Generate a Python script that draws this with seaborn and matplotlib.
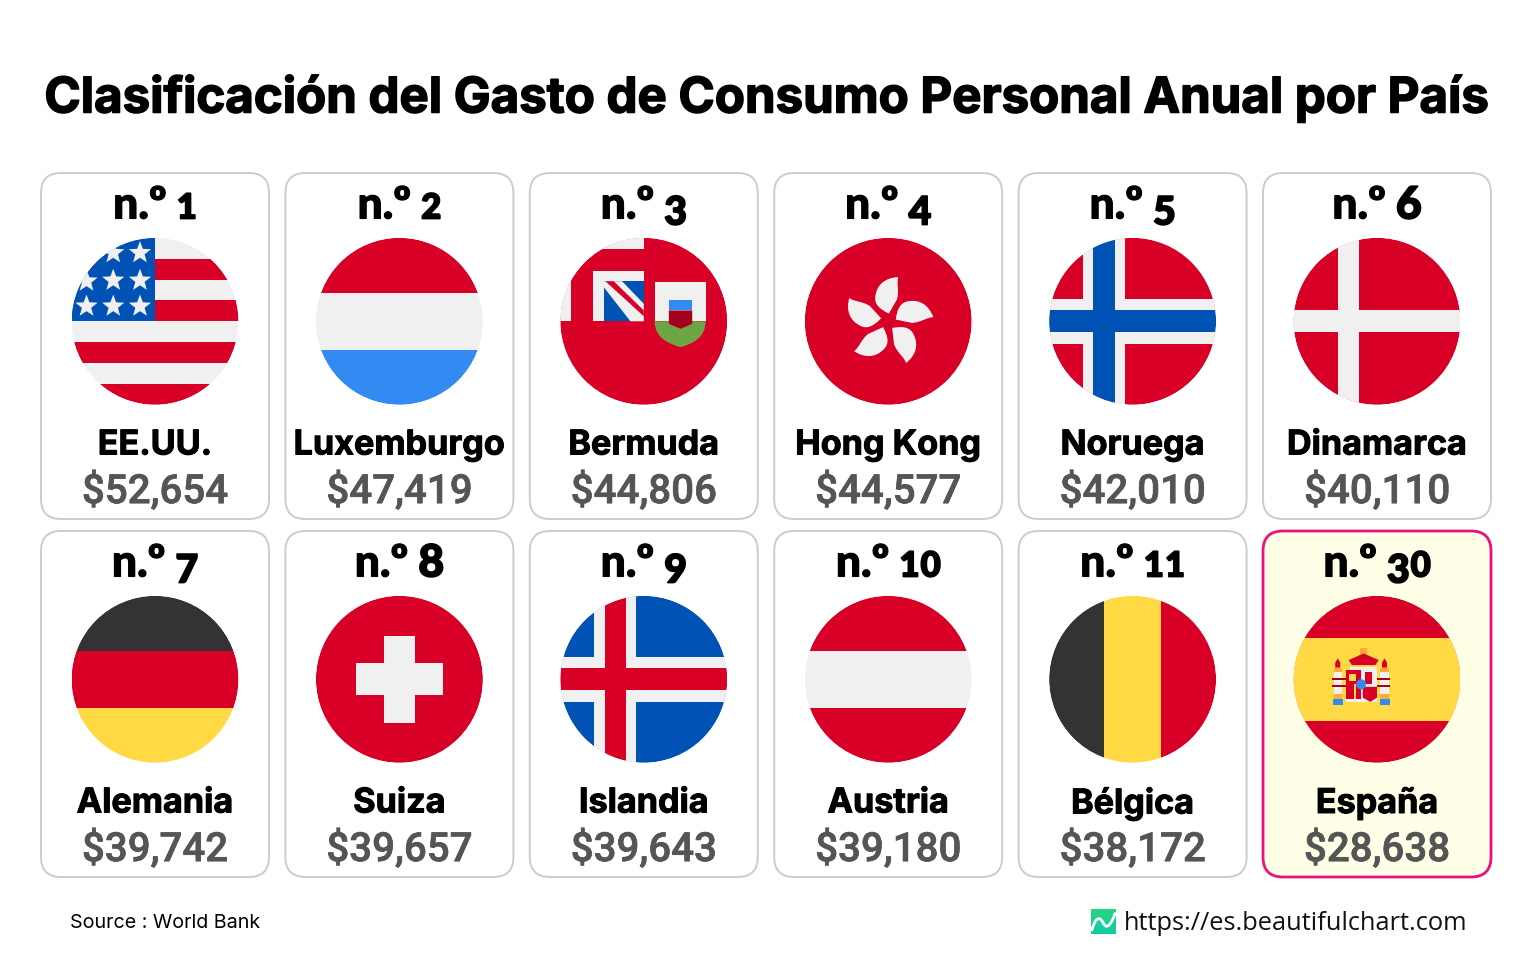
#!/usr/bin/env python3
# -*- coding: utf-8 -*-
import numpy as np
import pandas as pd
import matplotlib.pyplot as plt
import matplotlib.patheffects as pe
import seaborn as sns
from matplotlib.patches import Circle, FancyBboxPatch, PathPatch, Polygon
from matplotlib.path import Path
from matplotlib.transforms import Affine2D

sns.set_theme(style="white")
plt.rcParams['figure.dpi'] = 100

# %% data
paises = ['EE.UU.', 'Luxemburgo', 'Bermuda', 'Hong Kong', 'Noruega', 'Dinamarca',
          'Alemania', 'Suiza', 'Islandia', 'Austria', 'Bélgica', 'España']
puestos = [1, 2, 3, 4, 5, 6, 7, 8, 9, 10, 11, 30]
gasto = [52654, 47419, 44806, 44577, 42010, 40110,
         39742, 39657, 39643, 39180, 38172, 28638]

titulo = 'Clasificación del Gasto de Consumo Personal Anual por País'
fuente = 'Source : World Bank'
web = 'https://es.beautifulchart.com'

RED = '#D80027'
WHITE = '#F0F0F0'
BLUE = '#0052B4'
SKY = '#338AF3'
YELLOW = '#FFDA44'
BLACK = '#333333'
GREEN = '#6DA544'
DARK = '#A2001D'
ORANGE = '#FFA93A'

# card geometry, in pixels
CARD_W, CARD_H = 228, 346
CX, CY, R = 114, 148.3, 83.5


def grueso(w, color='black'):
    # the installed bold cuts are lighter than the original one
    return [pe.withStroke(linewidth=w, foreground=color)]


# %% flag helpers (unit circle coordinates, y goes down)
class Flag:
    def __init__(self, ax):
        self.ax = ax
        self.clip = Circle((CX, CY), R, transform=ax.transData)
        self.to_px = Affine2D().scale(R).translate(CX, CY)

    def add(self, patch):
        patch.set_clip_path(self.clip)
        self.ax.add_patch(patch)

    def rect(self, x0, y0, x1, y1, color):
        self.poly([(x0, y0), (x1, y0), (x1, y1), (x0, y1)], color)

    def poly(self, pts, color):
        self.add(Polygon(self.to_px.transform(pts), closed=True, fc=color, ec='none', lw=0))

    def disc(self, x, y, r, color):
        self.add(Circle((CX + x * R, CY + y * R), r * R, fc=color, ec='none', lw=0))

    def path(self, verts, codes, color):
        self.add(PathPatch(Path(self.to_px.transform(verts), codes), fc=color, ec='none', lw=0))


def bands_h(f, colors):
    f.rect(-1, -1, 1, -.34, colors[0])
    f.rect(-1, -.34, 1, .34, colors[1])
    f.rect(-1, .34, 1, 1, colors[2])


def flag_usa(f):
    f.rect(-1, -1, 1, 1, WHITE)
    for y in [-.75, -.25, .25, .75]:
        f.rect(-1, y, 1, y + .25, RED)
    f.rect(-1, -1, 0, 0, BLUE)
    star = Path.unit_regular_star(5, 0.42)
    for x, y in [(-.18, -.82), (-.5, -.82), (-.82, -.48), (-.5, -.49), (-.18, -.49),
                 (-.82, -.18), (-.5, -.18), (-.18, -.18)]:
        f.path(star.vertices * [.14, -.14] + [x, y], star.codes, WHITE)


def flag_lux(f):
    bands_h(f, [RED, WHITE, SKY])


def flag_bermuda(f):
    f.rect(-1, -1, 1, 1, RED)
    f.rect(-.5, -1, 0, -.87, WHITE)
    f.rect(-1, -.51, -.87, 0, WHITE)
    f.rect(-.61, -.6, 0, 0, WHITE)
    f.rect(-.48, -.48, 0, 0, BLUE)
    f.poly([(-.48, -.48), (-.26, -.48), (0, -.21), (0, 0), (-.16, 0), (-.48, -.41)], WHITE)
    f.poly([(-.46, -.48), (-.36, -.48), (0, -.13), (0, -.06)], RED)
    f.rect(.13, -.47, .74, 0, WHITE)
    codes = [Path.MOVETO] + [Path.CURVE4] * 6 + [Path.CLOSEPOLY]
    f.path([(.13, 0), (.13, .2), (.3, .27), (.44, .31), (.58, .27), (.74, .2), (.74, 0), (.13, 0)],
           codes, GREEN)
    f.rect(.30, -.26, .58, -.13, SKY)
    f.poly([(.30, -.13), (.58, -.13), (.58, .03), (.44, .09), (.30, .03)], DARK)


def flag_hk(f):
    f.rect(-1, -1, 1, 1, RED)
    codes = [Path.MOVETO] + [Path.CURVE4] * 9 + [Path.CLOSEPOLY]
    petal = np.array([(.008, -.088), (-.1, -.14), (-.17, -.2), (-.144, -.3),
                      (-.125, -.42), (-.03, -.5), (.116, -.504),
                      (.09, -.44), (.13, -.35), (.1, -.25),
                      (.008, -.088)]) * 1.05
    for k in range(5):
        a = np.radians(72 * k)
        rot = np.array([[np.cos(a), -np.sin(a)], [np.sin(a), np.cos(a)]])
        f.path(petal @ rot.T, codes, WHITE)


def nordic(f, back, outer, inner):
    f.rect(-1, -1, 1, 1, back)
    f.rect(-.6, -1, -.09, 1, outer)
    f.rect(-1, -.27, 1, .27, outer)
    f.rect(-.47, -1, -.21, 1, inner)
    f.rect(-1, -.13, 1, .13, inner)


def flag_nor(f):
    nordic(f, RED, WHITE, BLUE)


def flag_den(f):
    f.rect(-1, -1, 1, 1, RED)
    f.rect(-.47, -1, -.21, 1, WHITE)
    f.rect(-1, -.13, 1, .13, WHITE)


def flag_ger(f):
    bands_h(f, [BLACK, RED, YELLOW])


def flag_sui(f):
    f.rect(-1, -1, 1, 1, RED)
    f.rect(-.52, -.19, .52, .19, WHITE)
    f.rect(-.19, -.52, .19, .52, WHITE)


def flag_isl(f):
    nordic(f, BLUE, WHITE, RED)


def flag_aut(f):
    bands_h(f, [RED, WHITE, RED])


def flag_bel(f):
    f.rect(-1, -1, -.34, 1, BLACK)
    f.rect(-.34, -1, .34, 1, YELLOW)
    f.rect(.34, -1, 1, 1, RED)


def flag_esp(f):
    f.rect(-1, -1, 1, 1, RED)
    f.rect(-1, -.5, 1, .5, YELLOW)
    # coat of arms
    for x in [-.47, .09]:
        f.poly([(x - .03, -.20), (x, -.25), (x + .03, -.20), (x + .03, -.14), (x - .03, -.14)], RED)
        f.rect(x - .05, -.14, x + .05, -.09, ORANGE)
        f.rect(x - .05, -.09, x + .05, .18, WHITE)
        f.rect(x - .07, -.01, x + .07, .01, DARK)
        f.rect(x - .07, .07, x + .07, .09, DARK)
        f.rect(x - .05, .18, x + .05, .24, ORANGE)
        f.rect(x - .06, .24, x + .06, .31, SKY)
    f.rect(-.39, -.01, -.33, .01, DARK)
    f.rect(-.39, .07, -.33, .09, DARK)
    f.rect(-.01, -.01, .05, .01, DARK)
    f.rect(-.01, .07, .05, .09, DARK)
    f.rect(-.20, -.37, -.12, -.28, ORANGE)
    f.poly([(-.30, -.17), (-.34, -.23), (-.16, -.31), (.02, -.23), (-.02, -.17)], RED)
    f.rect(-.32, -.15, 0, -.11, WHITE)
    f.rect(-.37, -.11, 0, .27, WHITE)
    f.rect(-.37, -.11, -.19, .24, RED)
    f.rect(-.33, -.06, -.25, .02, YELLOW)
    f.rect(-.28, .06, -.25, .24, YELLOW)
    f.rect(-.14, -.09, -.06, .06, RED)
    f.poly([(-.17, .09), (0, .09), (0, .22), (-.08, .27), (-.17, .22)], RED)
    f.disc(-.19, .06, .06, SKY)


banderas = [flag_usa, flag_lux, flag_bermuda, flag_hk, flag_nor, flag_den,
            flag_ger, flag_sui, flag_isl, flag_aut, flag_bel, flag_esp]

# %% old style numerals: font scale and baseline drop per digit
ESTILO_DIGITO = {'0': (.78, 0), '1': (.78, 0), '2': (.78, 0),
                 '3': (.88, 6), '4': (.88, 6), '5': (.88, 6), '7': (.88, 6), '9': (.88, 6),
                 '6': (1, 0), '8': (1, 0)}


def rank_label(ax, puesto, x, y):
    size = 32
    kw = dict(family='Lato', weight='black', color='black', va='baseline', ha='left')
    rend = ax.figure.canvas.get_renderer()
    partes = [(ax.text(0, y, 'n.º', fontsize=size, path_effects=grueso(.8), **kw), 10)]
    for d in str(puesto):
        esc, baja = ESTILO_DIGITO[d]
        partes.append((ax.text(0, y + baja, d, fontsize=size * esc, path_effects=grueso(1.3), **kw), 1))
    anchos = [t.get_window_extent(rend).width for t, _ in partes]
    total = sum(anchos) + sum(gap for _, gap in partes[:-1])
    pos = x - total / 2
    for (t, gap), w in zip(partes, anchos):
        t.set_x(pos)
        pos += w + gap


# %% one card per country
def draw_card(data, color=None, **kwargs):
    ax = plt.gca()
    ax.set_xlim(0, CARD_W)
    ax.set_ylim(CARD_H, 0)
    ax.set_axis_off()
    i = data.index[0]
    destacado = data['pais'].iloc[0] == 'España'
    fondo = '#FFFFE8' if destacado else 'white'
    ax.add_patch(FancyBboxPatch((0, 0), CARD_W, CARD_H, boxstyle='round,pad=0,rounding_size=20',
                                fc=fondo, ec='#E8127C' if destacado else '#CCCCCC',
                                lw=2.0 if destacado else 1.4, clip_on=False))
    banderas[i](Flag(ax))
    # soft edge over the hard clip of the flag
    ax.add_patch(Circle((CX, CY), R + .8, fc='none', ec=fondo, lw=1.2))
    rank_label(ax, data['puesto'].iloc[0], CARD_W / 2, 45.5)
    ax.text(CARD_W / 2, 272.5, data['pais'].iloc[0], ha='center', va='center',
            fontsize=24.6, family='Inter', weight='bold', color='black', clip_on=False,
            path_effects=grueso(.7))
    ax.text(CARD_W / 2, 318, f"${data['gasto'].iloc[0]:,}", ha='center', va='center',
            fontsize=29, family='Roboto', weight='medium', color='#555555', clip_on=False,
            path_effects=grueso(.5, '#555555'))


df = pd.DataFrame({'pais': paises, 'puesto': puestos, 'gasto': gasto})

g = sns.FacetGrid(df, col='pais', col_order=paises, col_wrap=6, sharex=False, sharey=False,
                  height=3.46, aspect=CARD_W / CARD_H)
g.figure.set_size_inches(15.36, 9.6)
g.map_dataframe(draw_card)
g.set_titles('')
g.figure.subplots_adjust(left=41 / 1536, right=1491 / 1536, top=1 - 173 / 960, bottom=1 - 877 / 960,
                         wspace=16.4 / CARD_W, hspace=12 / CARD_H)

fig = g.figure
fig.text(768 / 1536, 1 - 99 / 960, titulo, ha='center', va='center', fontsize=35.4,
         family='Inter', weight='bold', color='black', path_effects=grueso(1.1))
fig.text(70 / 1536, 1 - 923 / 960, fuente, ha='left', va='center', fontsize=14.2,
         family='Inter', color='black')
fig.text(1124 / 1536, 1 - 924 / 960, web, ha='left', va='center', fontsize=18.25,
         family='Open Sans', color='#111111')

# logo
logo = fig.add_axes([1091 / 1536, 1 - 934 / 960, 25 / 1536, 25 / 960])
grad = np.linspace(0, 1, 25)[:, None]
tope, base = np.array([.16, .84, .50]), np.array([.06, .80, .66])
logo.imshow((1 - grad[..., None]) * tope + grad[..., None] * base, aspect='auto', extent=(0, 1, 0, 1))
onda = np.array([(.02, .12), (.2, .72), (.35, .72), (.5, .42), (.62, .2), (.78, .3), (.98, .86)])
logo.add_patch(PathPatch(Path(onda, [Path.MOVETO] + [Path.CURVE4] * 6), fc='none', ec='white', lw=2))
logo.set_xlim(0, 1)
logo.set_ylim(0, 1)
logo.set_axis_off()

fig.savefig('out.png', dpi=100, facecolor='white')
